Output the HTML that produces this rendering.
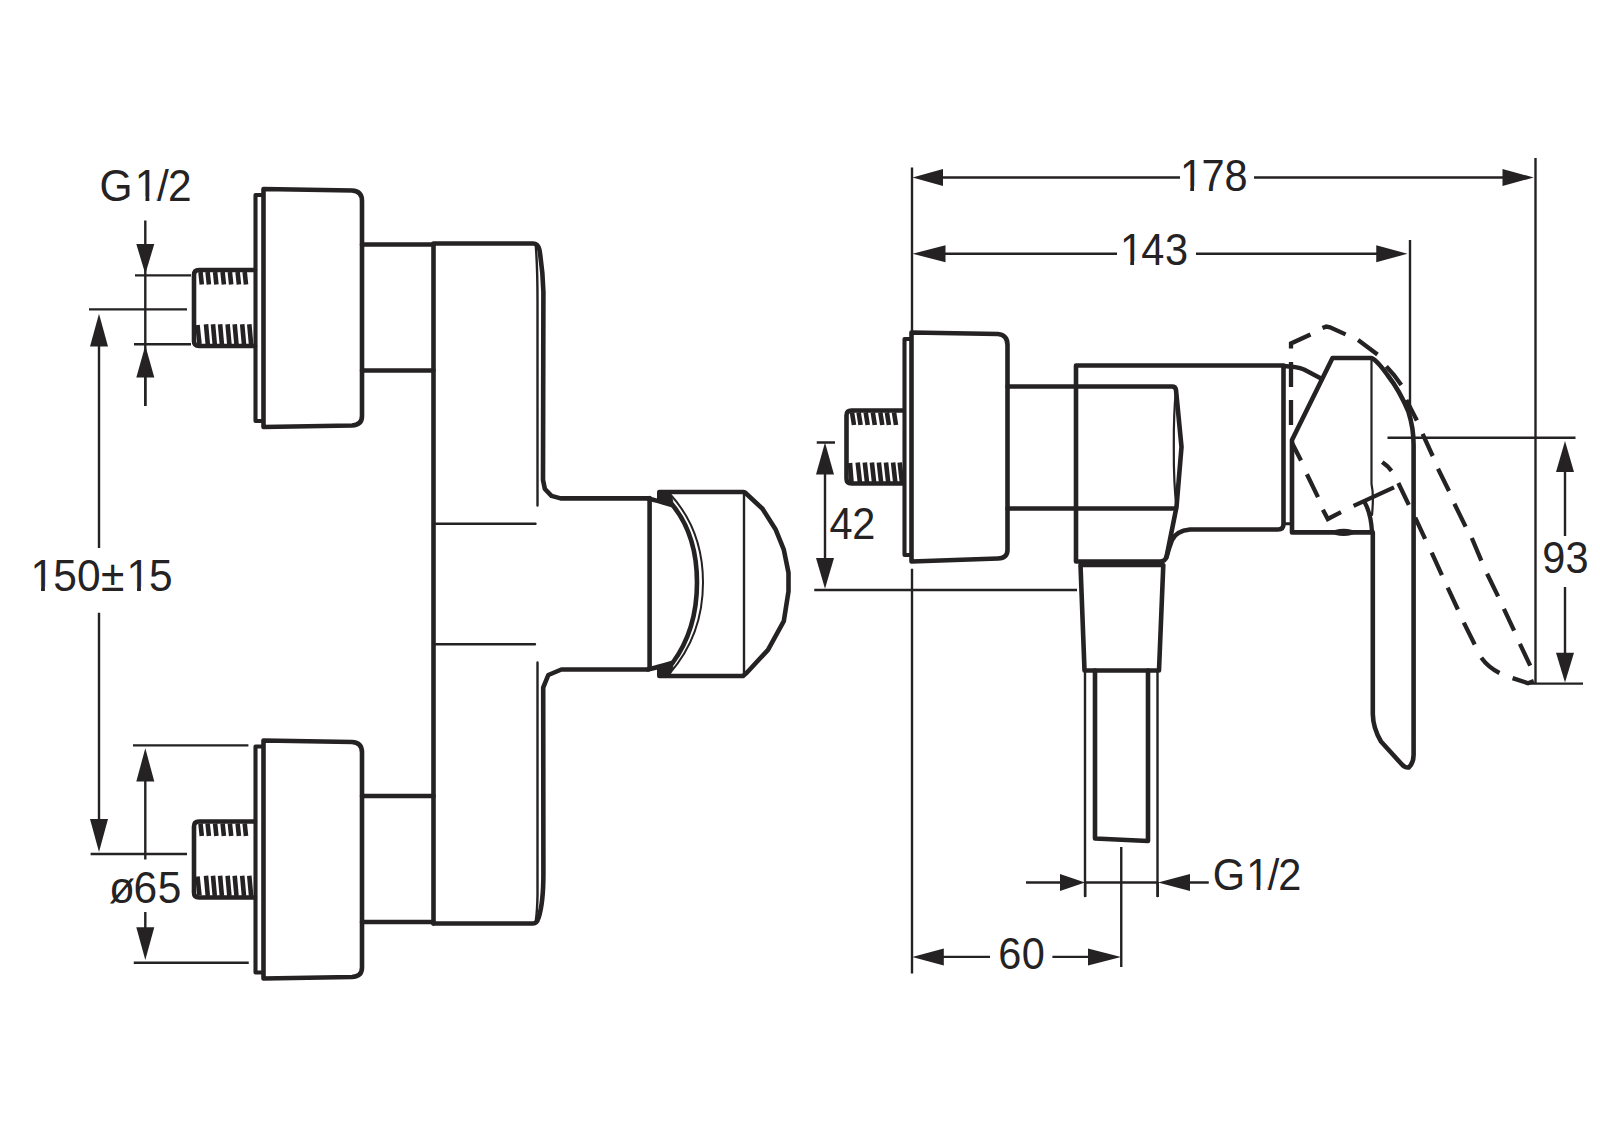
<!DOCTYPE html>
<html><head><meta charset="utf-8">
<style>
html,body{margin:0;padding:0;background:#fff;width:1600px;height:1131px;overflow:hidden}
svg{display:block}
text{font-family:"Liberation Sans",sans-serif;fill:#252223;stroke:none}
</style></head><body>
<svg width="1600" height="1131" viewBox="0 0 1600 1131">
<rect width="1600" height="1131" fill="#fff"/>
<g fill="none" stroke="#252223" stroke-linejoin="round" stroke-linecap="round">

<!-- ===== LEFT DEVICE: upper inlet ===== -->
<g id="inlet">
  <path d="M255 270 L199 270 Q194 270 194 275 L194 341 Q194 346 199 346 L255 346" stroke-width="4.6"/>
  <g stroke-width="4.6" stroke-linecap="butt">
    <path d="M200.5 272.0 L201.8 284.6 M207.6 272.0 L208.9 284.6 M215.1 272.0 L216.4 284.6 M222.6 272.0 L223.9 284.6 M229.9 272.0 L231.2 284.6 M237.6 272.0 L238.9 284.6 M244.7 272.0 L246.0 284.6"/>
    <path d="M206.0 324.3 L207.8 344.5 M213.0 324.3 L214.8 344.5 M220.1 324.3 L221.9 344.5 M227.6 324.3 L229.4 344.5 M234.7 324.3 L236.5 344.5 M242.2 324.3 L244.0 344.5 M249.3 324.3 L251.1 344.5 M197.5 325 L199.5 344"/>
  </g>
  <path d="M262 195 L255.5 195 L255.5 421 L262 421" stroke-width="4.1"/>
  <path d="M263.5 189 L352 190.5 Q362 191 362 201 L362 416 Q362 425 352 425.5 L263.5 427 Z" stroke-width="4.6"/>
  <path d="M362 244.5 L433.5 244.5 M362 370.5 L433.5 370.5" stroke-width="4.6"/>
</g>
<use href="#inlet" transform="translate(0,551.5)"/>

<!-- ===== LEFT DEVICE: body ===== -->
<path d="M433.5 923.5 L433.5 243.5 L533 243.5 Q538 243.5 539.5 250 Q543 272 543.4 292 L543 480 L544.9 489 L551.5 495.9 L560.6 498.4 L648 498.4" stroke-width="4.6"/>
<path d="M648 669.5 L561.4 669.5 L548.3 675 L543.2 687.6 L543.4 872 Q543.5 903 538.5 918 Q537 923.5 533 923.5 L433.5 923.5" stroke-width="4.6"/>
<path d="M535.8 246 Q537.5 268 537.5 300 L537.5 505.5 M537.5 662.5 L537.5 895 Q537.3 910 535.8 921" stroke-width="2.4"/>
<path d="M433.75 523.75 L535.5 523.75 M433.75 644.25 L535 644.25" stroke-width="2.4"/>

<!-- ===== LEFT DEVICE: cap ===== -->
<path d="M649.6 498 L649.6 669" stroke-width="4.6"/>
<path d="M659.3 500 L659.3 492 L743 492 L745 492.5 L762.5 508.8 L775.5 529.2 L783.8 549.6 L788.5 572.8 L788.5 591.4 L783.8 621.1 L768 649.9 L747 672.5 L743 676 L659.3 676 L659.3 667" stroke-width="4.6"/>
<path d="M744 492 L744 676" stroke-width="2.4"/>
<path d="M672.5 505 Q697 535 697 582.5 Q697 630 672.5 663" stroke-width="4.6"/>
<path d="M670 494 Q703 530 703 582.5 Q703 635 670 673" stroke-width="2.0"/>
<path d="M648 498.5 Q655 500 672 505 M648 669.5 Q655 668 672 663" stroke-width="4.6"/>
<path d="M658 493 L670 493 Q673 499 673.5 506 Q665 504 658 501.5 Z M658 675 L670 675 Q673 669 673.5 662 Q665 664 658 666.5 Z" fill="#252223" stroke-width="1"/>
<!-- ===== LEFT DIMENSIONS ===== -->
<g stroke-width="2.4" stroke-linecap="butt">
  <path d="M145.3 220.6 L145.3 406 M135 275.4 L191 275.4"/>
  <path d="M134 344.3 L191 344.3 M145.3 360 L145.3 406"/>
  <path d="M89 309.4 L187 309.4 M99 330 L99 548 M99 612.8 L99 835 M90.6 854 L187 854"/>
  <path d="M133 745.4 L248.4 745.4 M145.3 765 L145.3 859.4 M145.3 911.9 L145.3 940 M133.75 962.75 L248.75 962.75"/>
</g>
<g fill="#252223" stroke="none">
  <path d="M136.3 244 L154.3 244 L145.3 274 Z"/>
  <path d="M136.3 377.6 L154.3 377.6 L145.3 345.6 Z"/>
  <path d="M90 346.6 L108 346.6 L99 313.75 Z"/>
  <path d="M90 819 L108 819 L99 852 Z"/>
  <path d="M136.3 781.6 L154.3 781.6 L145.3 748.2 Z"/>
  <path d="M136.3 927.3 L154.3 927.3 L145.3 960 Z"/>
</g>

<!-- ===== RIGHT DEVICE ===== -->
<g id="rdev">
  <!-- thread -->
  <path d="M903.5 410.5 L851.5 410.5 Q846.5 410.5 846.5 415.5 L846.5 478.5 Q846.5 483.5 851.5 483.5 L903.5 483.5" stroke-width="4.6"/>
  <g stroke-width="4.6" stroke-linecap="butt">
    <path d="M852.0 412.3 L854.0 425.0 M858.6 412.3 L860.6 425.0 M865.7 412.3 L867.7 425.0 M872.8 412.3 L874.8 425.0 M880.3 412.3 L882.3 425.0 M886.9 412.3 L888.9 425.0 M894.0 412.3 L896.0 425.0"/>
    <path d="M857.7 462.4 L859.9 482.3 M864.8 462.4 L867.0 482.3 M871.9 462.4 L874.1 482.3 M878.9 462.4 L881.1 482.3 M886.0 462.4 L888.2 482.3 M893.1 462.4 L895.3 482.3 M899.7 462.4 L901.9 482.3 M850 463 L851.5 482"/>
  </g>
  <path d="M911 339 L904.5 339 L904.5 555 L911 555" stroke-width="4.1"/>
  <path d="M911.5 332.5 L998 334 Q1007.5 335 1007.5 345 L1007.5 550 Q1007.5 558 998 558.5 L911.5 561.5 Z" stroke-width="4.6"/>
  <!-- connector + front -->
  <path d="M1007.5 386.5 L1172 386.5 Q1175.5 386.5 1176 390 L1181.5 447 L1176.5 507 L1166.5 557" stroke-width="4.6"/>
  <path d="M1007.5 508.5 L1175.5 508.5" stroke-width="4.6"/>
  <path d="M1176 390 Q1173.6 412 1173.8 447 Q1173.6 484 1176.5 507" stroke-width="2.2"/>
  <!-- body -->
  <path d="M1076 561.5 L1076 365.5 L1283.5 365.5 L1283.5 524 Q1283.5 529.5 1278 529.5 L1190 529.5 Q1176 531 1172 540 Q1169 548 1166.5 557 Q1165 561.5 1160 561.5 L1076 561.5 Z" stroke-width="4.6"/>
  <!-- tapered pipe -->
  <path d="M1080.5 565 L1084.5 670.5 L1159 670.5 L1163.3 565 Z" stroke-width="4.6"/>
  <path d="M1085 670.5 L1085 896 M1157.5 670.5 L1157.5 896" stroke-width="2.4"/>
  <path d="M1095 670.5 L1095 838.5 L1148 841 L1148 670.5" stroke-width="4.6"/>
  <!-- handle base -->
  <path d="M1283.5 523.8 L1292 523.8" stroke-width="2.9"/>
  <path d="M1283 366 Q1297 366.5 1304 369.5 L1322 379" stroke-width="4.3"/>
  <path d="M1292 532.4 L1292 440 L1332.5 358 L1371 358 Q1376 359 1387.5 375 Q1400 391 1408.5 412 Q1413.6 428 1413.6 445 L1413.6 755 Q1413.6 763 1408.7 767.5 Q1405 768 1401.5 764 L1381 741.5 Q1373 728 1372.8 714 L1372.8 532.4 L1292 532.4" stroke-width="4.6"/>
  <path d="M1371.5 358 L1371.5 484 Q1374 495 1372 515" stroke-width="2.2"/>
  <path d="M1365 503 Q1371 514 1372 532" stroke-width="4.3"/>
  <ellipse cx="1343.6" cy="532.4" rx="11" ry="3.6" fill="#252223" stroke="none"/>
  <!-- dashed alternate lever -->
  <path stroke-width="4.3" stroke-linecap="butt" stroke-linejoin="miter" d="
M1291 362 L1291 387 M1291 400 L1291 425
M1291 348.5 L1291 343.5 L1310.5 334.5
M1322.5 328.1 L1326.3 326.6 L1330 327.3 L1345.6 334.4
M1358.1 340 L1377.5 354.4
M1386.3 366.3 L1394 375 L1401.3 385
M1406.3 400 L1416.9 420.6
M1422.6 433.8 L1432.7 456 M1438 468.8 L1449 491 M1454.4 503.8 L1465.6 526.6
M1471.8 538 L1481.3 560.6 M1487.1 573.8 L1498.1 596.4 M1503.9 608.8 L1514.1 630.7 M1519.9 643.8 L1530.2 665.7
M1291.8 442.6 L1301 460.6 M1306.9 474.3 L1318 497.1
M1322.9 509.8 L1327.8 519 L1341 512.2
M1353.6 505.9 L1394 487.4
M1382.3 462.1 L1387.5 466.2 L1391.5 470.9
M1398.3 483 L1408.8 504.9
M1415.2 517.6 L1425.1 538.8
M1431.7 552.6 L1441.9 575.2 M1447.7 587.6 L1457.9 609.5 M1463.8 622.6 L1474.7 644.5
M1481.3 657.7 Q1488 667 1499.5 673
M1512.6 678.1 L1528 683.2 L1533.8 681
"/>
</g>

<!-- ===== RIGHT DIMENSIONS ===== -->
<g stroke-width="2.4" stroke-linecap="butt">
  <path d="M912 167.5 L912 331 M912 568.75 L912 973.4"/>
  <path d="M1535.5 158 L1535.5 683.6"/>
  <path d="M1410 240 L1410 412"/>
  <path d="M940 177.5 L1180 177.5 M1254 177.5 L1505 177.5"/>
  <path d="M943 253.75 L1117 253.75 M1196 253.75 L1379 253.75"/>
  <path d="M816.75 442.5 L835 442.5 M825 470 L825 560 M814.25 590 L1077 590"/>
  <path d="M1387.5 437.8 L1575.5 437.8 M1528.5 683.6 L1583 683.6 M1565 470 L1565 536 M1565 587 L1565 655"/>
  <path d="M1026 882.5 L1062 882.5 M1085 882.5 L1158 882.5 M1188 882.5 L1208.75 882.5 M1085.2 882 L1085.2 897 M1157.8 882 L1157.8 897 M1121.25 847 L1121.25 967"/>
  <path d="M940 956.9 L990 956.9 M1052.4 956.9 L1090 956.9"/>
</g>
<g fill="#252223" stroke="none">
  <path d="M912.5 177.5 L943 169 L943 186 Z"/>
  <path d="M1533.75 177.5 L1502.5 169 L1502.5 186 Z"/>
  <path d="M912.5 253.75 L945.5 245.25 L945.5 262.25 Z"/>
  <path d="M1407.5 253.75 L1376.25 245.25 L1376.25 262.25 Z"/>
  <path d="M825 442.5 L816 474.5 L834 474.5 Z"/>
  <path d="M825 588.75 L816 558 L834 558 Z"/>
  <path d="M1565 441 L1556 472 L1574 472 Z"/>
  <path d="M1565 682.4 L1556 652.7 L1574 652.7 Z"/>
  <path d="M1085 882.5 L1060 874 L1060 891 Z"/>
  <path d="M1158 882.5 L1190 874 L1190 891 Z"/>
  <path d="M912.2 956.9 L943.8 948.4 L943.8 965.4 Z"/>
  <path d="M1121 956.9 L1088 948.4 L1088 965.4 Z"/>
</g>
</g>
<!--TEXT-->
<text transform="translate(99.41,200.9) scale(1,1.035)" x="0.00 35.45 57.64 68.60" y="0" font-size="42.5">G1/2</text>
<text transform="translate(30.41,590.8) scale(1,1.035)" x="0.00 22.74 46.53 70.69 96.00 118.49" y="0" font-size="42.5">150±15</text>
<text transform="translate(109.04,902.9) scale(1,1.035)" x="0.00 24.35 48.71" y="0" font-size="42.5">ø65</text>
<text transform="translate(1179.88,190.5) scale(1,1.05)" x="0.00 21.54 44.62" y="0" font-size="41.5">178</text>
<text transform="translate(1119.88,265.2) scale(1,1.05)" x="0.00 21.31 45.09" y="0" font-size="41.5">143</text>
<text transform="translate(829.60,539.0) scale(1,1.05)" x="0.00 22.67" y="0" font-size="41.5">42</text>
<text transform="translate(1542.15,573.2) scale(1,1.05)" x="0.00 23.41" y="0" font-size="41.5">93</text>
<text transform="translate(1212.66,890.2) scale(1,1.05)" x="0.00 33.50 55.19 65.60" y="0" font-size="41.5">G1/2</text>
<text transform="translate(998.19,969.0) scale(1,1.05)" x="0.00 23.54" y="0" font-size="41.5">60</text>
<g fill="#fff" stroke="none">
<rect x="137.18" y="196.71" width="8.32" height="5.19"/>
<rect x="149.36" y="196.71" width="7.24" height="5.19"/>
<rect x="32.73" y="586.61" width="8.32" height="5.19"/>
<rect x="44.91" y="586.61" width="7.87" height="5.19"/>
<rect x="128.73" y="586.61" width="8.32" height="5.19"/>
<rect x="140.91" y="586.61" width="7.87" height="5.19"/>
<rect x="1182.12" y="186.34" width="8.15" height="5.16"/>
<rect x="1194.04" y="186.34" width="7.70" height="5.16"/>
<rect x="1122.12" y="261.04" width="8.15" height="5.16"/>
<rect x="1134.04" y="261.04" width="7.66" height="5.16"/>
<rect x="1248.40" y="886.04" width="8.15" height="5.16"/>
<rect x="1260.32" y="886.04" width="7.08" height="5.16"/>
</g>
<!--/TEXT-->

</svg>
</body></html>
